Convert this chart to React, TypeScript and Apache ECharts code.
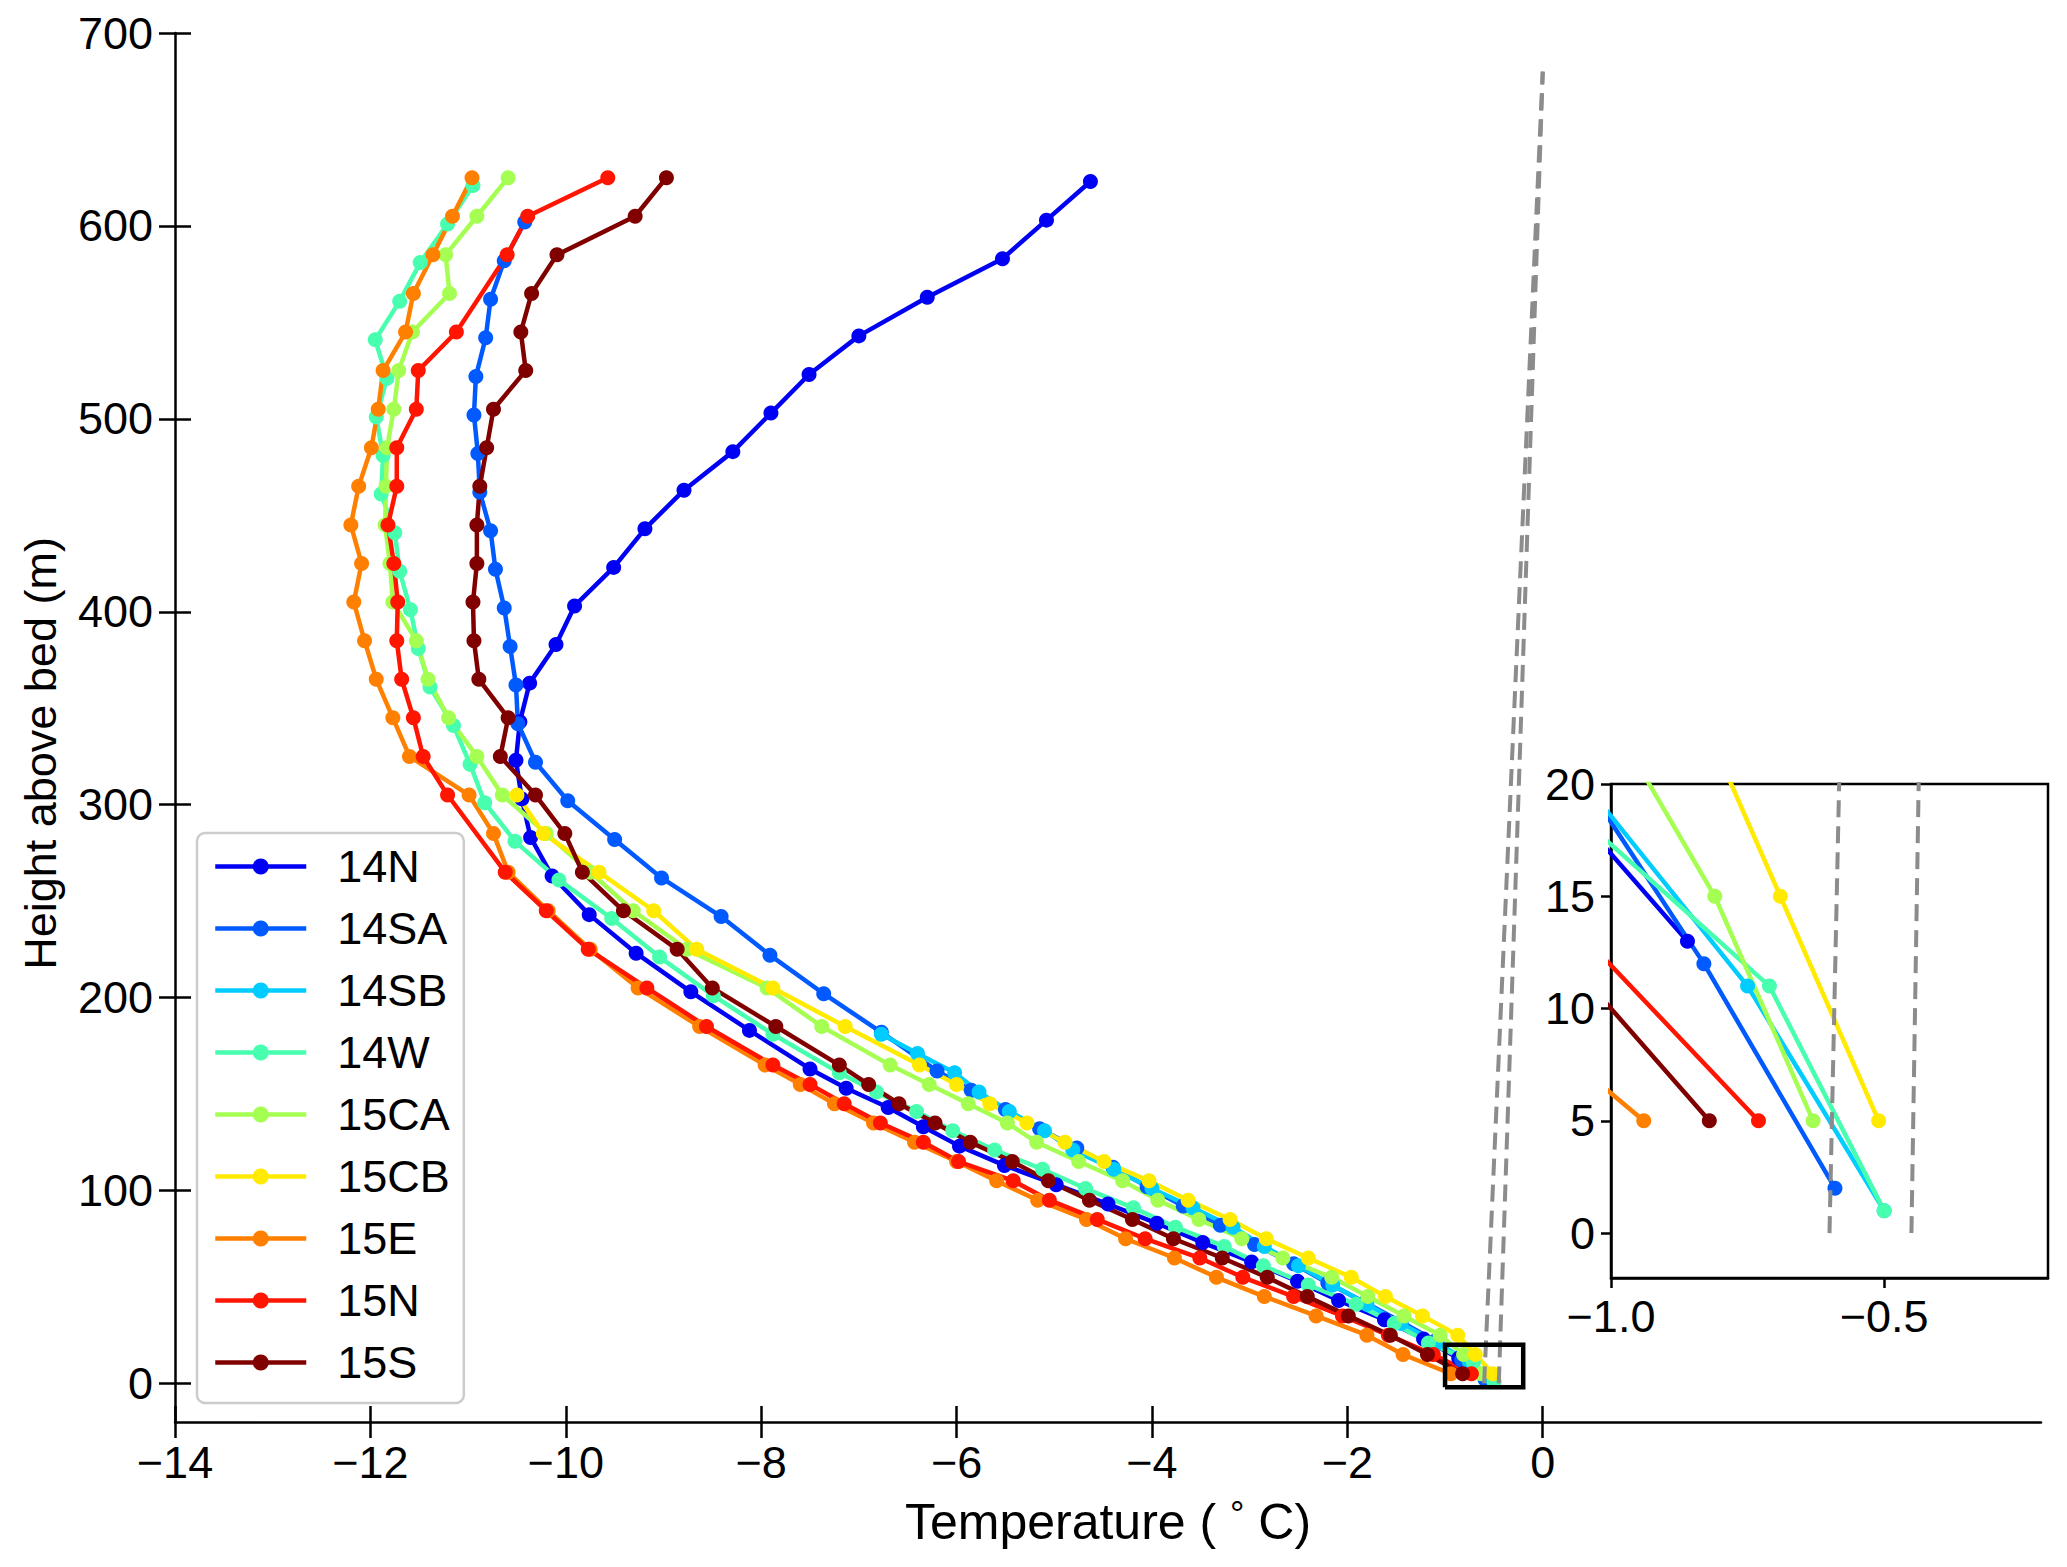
import React, { useEffect, useRef } from 'react';
import * as echarts from 'echarts';

// ---------- data ----------
const SERIES_NAMES = ['14N', '14SA', '14SB', '14W', '15CA', '15CB', '15E', '15N', '15S'];
const COLORS = ['#0000f4', '#005aff', '#00ccff', '#48ffaf', '#a5ff52', '#ffea00', '#ff8000', '#ff1500', '#800000'];

const H_14N = [13, 23, 33, 43, 53, 63, 73, 83, 93, 103, 113, 123, 133, 143, 153, 163, 183, 203, 223, 243, 263, 283, 303, 323, 343, 363, 383, 403, 423, 443, 463, 483, 503, 523, 543, 563, 583, 603, 623];
const T_14N = [-0.86, -1.22, -1.62, -2.09, -2.51, -2.98, -3.48, -3.95, -4.45, -4.98, -5.51, -5.97, -6.34, -6.70, -7.13, -7.50, -8.12, -8.72, -9.28, -9.76, -10.14, -10.36, -10.45, -10.51, -10.47, -10.37, -10.10, -9.91, -9.51, -9.19, -8.79, -8.29, -7.90, -7.51, -7.00, -6.30, -5.53, -5.08, -4.63];

const H_14SA = [2, 12, 22, 32, 42, 52, 62, 72, 82, 92, 102, 112, 122, 132, 142, 152, 162, 182, 202, 222, 242, 262, 282, 302, 322, 342, 362, 382, 402, 422, 442, 462, 482, 502, 522, 542, 562, 582, 602];
const T_14SA = [-0.59, -0.83, -1.10, -1.45, -1.82, -2.20, -2.55, -2.95, -3.30, -3.68, -4.05, -4.40, -4.77, -5.15, -5.50, -5.85, -6.20, -6.77, -7.36, -7.91, -8.41, -9.02, -9.50, -9.98, -10.31, -10.49, -10.51, -10.57, -10.63, -10.72, -10.77, -10.88, -10.90, -10.94, -10.92, -10.82, -10.77, -10.63, -10.42];

const H_14SB = [1, 11, 21, 31, 41, 51, 61, 71, 81, 91, 101, 111, 121, 131, 141, 151, 161, 171, 181];
const T_14SB = [-0.50, -0.75, -1.08, -1.45, -1.80, -2.15, -2.50, -2.85, -3.17, -3.58, -4.00, -4.39, -4.81, -5.10, -5.46, -5.77, -6.02, -6.40, -6.77];

const H_14W = [1, 11, 21, 31, 41, 51, 61, 71, 81, 91, 101, 111, 121, 131, 141, 151, 161, 181, 201, 221, 241, 261, 281, 301, 321, 341, 361, 381, 401, 421, 441, 461, 481, 501, 521, 541, 561, 581, 601, 621];
const T_14W = [-0.50, -0.71, -1.17, -1.52, -1.91, -2.40, -2.86, -3.26, -3.76, -4.19, -4.68, -5.12, -5.61, -6.04, -6.41, -6.82, -7.20, -7.88, -8.49, -9.04, -9.53, -10.07, -10.52, -10.83, -10.98, -11.15, -11.39, -11.51, -11.59, -11.70, -11.75, -11.89, -11.87, -11.94, -11.83, -11.95, -11.70, -11.49, -11.21, -10.95];

const H_15CA = [5, 15, 25, 35, 45, 55, 65, 75, 85, 95, 105, 115, 125, 135, 145, 155, 165, 185, 205, 225, 245, 265, 285, 305, 325, 345, 365, 385, 405, 425, 445, 465, 485, 505, 525, 545, 565, 585, 605, 625];
const T_15CA = [-0.63, -0.81, -1.05, -1.42, -1.79, -2.16, -2.66, -3.08, -3.52, -3.94, -4.30, -4.75, -5.18, -5.48, -5.88, -6.28, -6.68, -7.38, -7.94, -8.76, -9.31, -9.75, -10.20, -10.65, -10.91, -11.20, -11.41, -11.53, -11.77, -11.80, -11.85, -11.84, -11.83, -11.76, -11.71, -11.57, -11.19, -11.23, -10.91, -10.59];

const H_15CB = [5, 15, 25, 35, 45, 55, 65, 75, 85, 95, 105, 115, 125, 135, 145, 155, 165, 185, 205, 225, 245, 265, 285, 305];
const T_15CB = [-0.51, -0.69, -0.87, -1.23, -1.61, -1.96, -2.40, -2.83, -3.20, -3.63, -4.03, -4.49, -4.89, -5.28, -5.66, -6.00, -6.38, -7.14, -7.88, -8.66, -9.10, -9.66, -10.23, -10.50];

const H_15E = [5, 15, 25, 35, 45, 55, 65, 75, 85, 95, 105, 115, 125, 135, 145, 155, 165, 185, 205, 225, 245, 265, 285, 305, 325, 345, 365, 385, 405, 425, 445, 465, 485, 505, 525, 545, 565, 585, 605, 625];
const T_15E = [-0.94, -1.43, -1.80, -2.32, -2.85, -3.34, -3.77, -4.27, -4.67, -5.17, -5.59, -6.00, -6.43, -6.85, -7.25, -7.60, -7.96, -8.63, -9.26, -9.75, -10.18, -10.59, -10.74, -10.99, -11.60, -11.77, -11.94, -12.06, -12.17, -12.09, -12.20, -12.12, -11.99, -11.92, -11.87, -11.64, -11.56, -11.36, -11.16, -10.96];

const H_15N = [5, 15, 25, 35, 45, 55, 65, 75, 85, 95, 105, 115, 125, 135, 145, 155, 165, 185, 205, 225, 245, 265, 305, 325, 345, 365, 385, 405, 425, 445, 465, 485, 505, 525, 545, 585, 605, 625];
const T_15N = [-0.73, -1.12, -1.58, -2.05, -2.55, -3.07, -3.51, -4.07, -4.56, -5.05, -5.42, -5.98, -6.34, -6.78, -7.15, -7.50, -7.88, -8.56, -9.17, -9.77, -10.20, -10.62, -11.21, -11.46, -11.56, -11.68, -11.73, -11.72, -11.76, -11.82, -11.73, -11.73, -11.53, -11.51, -11.12, -10.60, -10.39, -9.57];

const H_15S = [5, 15, 25, 35, 45, 55, 65, 75, 85, 95, 105, 115, 125, 135, 145, 155, 165, 185, 205, 225, 245, 265, 285, 305, 325, 345, 365, 385, 405, 425, 445, 465, 485, 505, 525, 545, 565, 585, 605, 625];
const T_15S = [-0.82, -1.18, -1.56, -1.99, -2.41, -2.82, -3.28, -3.78, -4.20, -4.64, -5.06, -5.43, -5.86, -6.22, -6.59, -6.90, -7.20, -7.85, -8.50, -8.86, -9.41, -9.83, -10.01, -10.31, -10.67, -10.59, -10.89, -10.94, -10.95, -10.91, -10.91, -10.88, -10.81, -10.74, -10.41, -10.46, -10.35, -10.09, -9.29, -8.97];

const HEIGHTS = [H_14N, H_14SA, H_14SB, H_14W, H_15CA, H_15CB, H_15E, H_15N, H_15S];
const TEMPS = [T_14N, T_14SA, T_14SB, T_14W, T_15CA, T_15CB, T_15E, T_15N, T_15S];

// pressure-melting reference lines: [T, h] end points
const PMP_LINE_A = [[-0.6, 0], [0, 680]];
const PMP_LINE_B = [[-0.45, 0], [0, 680]];

// zoom box (inset extent) in main axes
const ZOOM_BOX_X = [-1.0, -0.2];
const ZOOM_BOX_Y = [-2, 20];

const MAIN_X_RANGE = [-14, 5.1];
const MAIN_Y_RANGE = [-20, 700];
const X_TICKS = [-14, -12, -10, -8, -6, -4, -2, 0];
const Y_TICKS = [0, 100, 200, 300, 400, 500, 600, 700];

const INSET_X_RANGE = [-1.0, -0.2];
const INSET_Y_RANGE = [-2, 20];
const INSET_X_TICKS = [-1.0, -0.5];
const INSET_Y_TICKS = [0, 5, 10, 15, 20];

// ---------- styling ----------
const FONT = '"Liberation Sans", Arial, Helvetica, sans-serif';
const BLACK = '#000000';
const DASH_GREY = '#8c8c8c';
const TICK_FONT = 45;

const minus = (v: number) => (v < 0 ? '\u2212' + String(Math.abs(v)) : String(v));
const minus1 = (v: number) => (v < 0 ? '\u2212' + Math.abs(v).toFixed(1) : v.toFixed(1));

function buildOption() {
  const labelStyle = { fontFamily: FONT, fontSize: TICK_FONT, color: BLACK };
  const axisLineStyle = { color: BLACK, width: 2.5 };

  const xAxis: any[] = [
    {
      type: 'value', gridIndex: 0, position: 'bottom',
      min: MAIN_X_RANGE[0], max: MAIN_X_RANGE[1],
      axisLine: { show: true, onZero: false, lineStyle: axisLineStyle },
      axisTick: { show: true, inside: false, length: 16, customValues: X_TICKS, lineStyle: axisLineStyle },
      axisLabel: { show: true, customValues: X_TICKS, formatter: minus, margin: 18, ...labelStyle },
      splitLine: { show: false },
      name: 'Temperature ( {d|°} C)',
      nameLocation: 'middle',
      nameGap: 74,
      nameTextStyle: {
        fontFamily: FONT, fontSize: 50, color: BLACK,
        rich: { d: { fontFamily: FONT, fontSize: 36, color: BLACK, padding: [0, 0, 15, 0] } },
      },
    },
    {
      type: 'value', gridIndex: 0, position: 'bottom',
      min: MAIN_X_RANGE[0], max: MAIN_X_RANGE[1],
      axisLine: { show: false, onZero: false },
      axisTick: { show: true, inside: true, length: 16, customValues: X_TICKS, lineStyle: axisLineStyle },
      axisLabel: { show: false },
      splitLine: { show: false },
    },
    {
      type: 'value', gridIndex: 1, position: 'bottom',
      min: INSET_X_RANGE[0], max: INSET_X_RANGE[1],
      axisLine: { show: true, onZero: false, lineStyle: axisLineStyle },
      axisTick: { show: true, inside: false, length: 10, customValues: INSET_X_TICKS, lineStyle: axisLineStyle },
      axisLabel: { show: true, customValues: INSET_X_TICKS, formatter: minus1, margin: 16, ...labelStyle },
      splitLine: { show: false },
    },
  ];

  const yAxis: any[] = [
    {
      type: 'value', gridIndex: 0, position: 'left',
      min: MAIN_Y_RANGE[0], max: MAIN_Y_RANGE[1],
      axisLine: { show: true, onZero: false, lineStyle: axisLineStyle },
      axisTick: { show: true, inside: false, length: 16, customValues: Y_TICKS, lineStyle: axisLineStyle },
      axisLabel: { show: true, customValues: Y_TICKS, formatter: minus, margin: 22, ...labelStyle },
      splitLine: { show: false },
      name: 'Height above bed (m)',
      nameLocation: 'middle',
      nameRotate: 90,
      nameGap: 112,
      nameTextStyle: { fontFamily: FONT, fontSize: 45, color: BLACK, padding: [0, 52, 0, 0] },
    },
    {
      type: 'value', gridIndex: 0, position: 'left',
      min: MAIN_Y_RANGE[0], max: MAIN_Y_RANGE[1],
      axisLine: { show: false, onZero: false },
      axisTick: { show: true, inside: true, length: 16, customValues: Y_TICKS, lineStyle: axisLineStyle },
      axisLabel: { show: false },
      splitLine: { show: false },
    },
    {
      type: 'value', gridIndex: 1, position: 'left',
      min: INSET_Y_RANGE[0], max: INSET_Y_RANGE[1],
      axisLine: { show: true, onZero: false, lineStyle: axisLineStyle },
      axisTick: { show: true, inside: false, length: 10, customValues: INSET_Y_TICKS, lineStyle: axisLineStyle },
      axisLabel: { show: true, customValues: INSET_Y_TICKS, formatter: minus, margin: 16, ...labelStyle },
      splitLine: { show: false },
    },
  ];

  const series: any[] = [];
  const addData = (xIdx: number, yIdx: number, zBase: number) => {
    SERIES_NAMES.forEach((name, i) => {
      const data = HEIGHTS[i].map((h, k) => [TEMPS[i][k], h]);
      series.push({
        type: 'line', name, xAxisIndex: xIdx, yAxisIndex: yIdx, data,
        symbol: 'circle', symbolSize: 15, showSymbol: true, clip: true,
        lineStyle: { width: 4.5, color: COLORS[i] },
        itemStyle: { color: COLORS[i] },
        emphasis: { disabled: true },
        z: zBase,
      });
    });
  };
  addData(0, 0, 3);
  addData(2, 2, 3);

  const dashLine = (name: string, pts: number[][], xIdx: number, yIdx: number) => ({
    type: 'line', name, xAxisIndex: xIdx, yAxisIndex: yIdx, data: pts,
    symbol: 'none', clip: true,
    lineStyle: { width: 4, color: DASH_GREY, type: [17, 9] },
    emphasis: { disabled: true }, z: 4,
  });
  series.push(dashLine('_pmpA', PMP_LINE_A, 0, 0));
  series.push(dashLine('_pmpB', PMP_LINE_B, 0, 0));
  series.push(dashLine('_pmpA_in', PMP_LINE_A, 2, 2));
  series.push(dashLine('_pmpB_in', PMP_LINE_B, 2, 2));

  const box = [
    [ZOOM_BOX_X[0], ZOOM_BOX_Y[0]],
    [ZOOM_BOX_X[1], ZOOM_BOX_Y[0]],
    [ZOOM_BOX_X[1], ZOOM_BOX_Y[1]],
    [ZOOM_BOX_X[0], ZOOM_BOX_Y[1]],
    [ZOOM_BOX_X[0], ZOOM_BOX_Y[0]],
  ];
  series.push({
    type: 'line', name: '_box', xAxisIndex: 0, yAxisIndex: 0, data: box,
    symbol: 'none', clip: false,
    lineStyle: { width: 4.5, color: BLACK, join: 'miter' },
    emphasis: { disabled: true }, z: 5,
  });

  return {
    animation: false,
    backgroundColor: '#ffffff',
    grid: [
      { left: 175, top: 33, width: 1866, height: 1389, containLabel: false },
      {
        left: 1611, top: 784, width: 437, height: 494, containLabel: false,
        show: true, backgroundColor: '#ffffff', borderColor: BLACK, borderWidth: 2.5,
      },
    ],
    xAxis,
    yAxis,
    legend: {
      data: SERIES_NAMES,
      orient: 'vertical',
      left: 197,
      top: 833,
      itemWidth: 91,
      itemHeight: 20,
      itemGap: 17,
      padding: [11, 14, 18, 16],
      backgroundColor: 'rgba(255,255,255,0.8)',
      borderColor: '#cccccc',
      borderWidth: 2.5,
      borderRadius: 8,
      selectedMode: false,
      lineStyle: { width: 4.5 },
      textStyle: { fontFamily: FONT, fontSize: TICK_FONT, color: BLACK, lineHeight: 42, padding: [0, 0, 0, 26] },
    },
    series,
  };
}

export default function App() {
  const ref = useRef<HTMLDivElement>(null);
  useEffect(() => {
    document.body.style.margin = '0';
    if (!ref.current) return;
    const chart = echarts.init(ref.current, undefined, { renderer: 'svg' });
    chart.setOption(buildOption() as any);
    return () => chart.dispose();
  }, []);
  return <div ref={ref} style={{ width: 2067, height: 1567, background: '#fff' }} />;
}
